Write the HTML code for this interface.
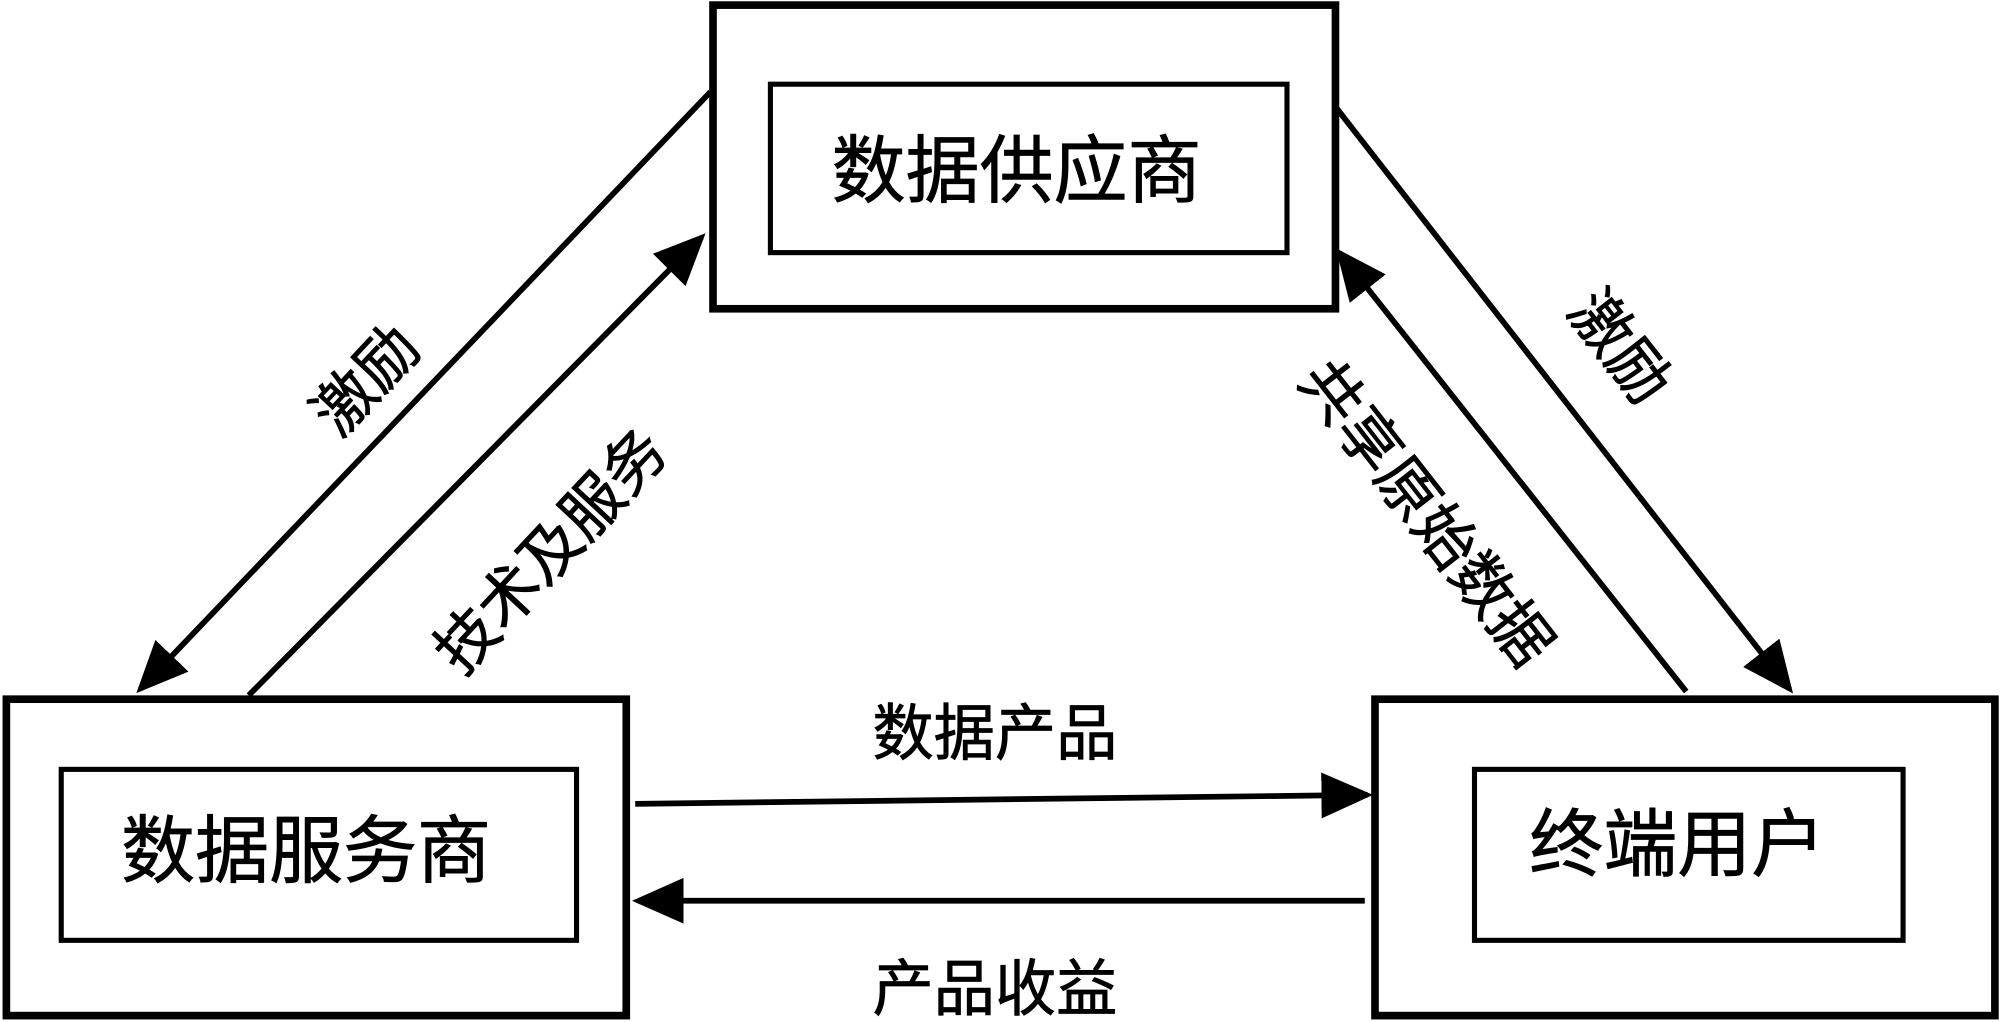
<!DOCTYPE html>
<html><head><meta charset="utf-8"><style>
html,body{margin:0;padding:0;background:#fff;}
svg{display:block;}
text{font-family:"Liberation Sans","Noto Sans CJK SC",sans-serif;fill:#000;stroke:#000;stroke-width:0.6;}
</style></head><body>
<svg width="2000" height="1022" viewBox="0 0 1568 801" preserveAspectRatio="none" xmlns="http://www.w3.org/2000/svg">
<defs>
<marker id="a" markerWidth="9" markerHeight="8" refX="8" refY="4" orient="auto" markerUnits="strokeWidth">
<path d="M0,0 L9,4 L0,8 Z" fill="#000"/>
</marker>
</defs>
<g fill="none" stroke="#000">
<rect x="559" y="4" width="488" height="238" stroke-width="6"/>
<rect x="604" y="66" width="405" height="132" stroke-width="4"/>
<rect x="5" y="548" width="486" height="248" stroke-width="6"/>
<rect x="48" y="603" width="404" height="134" stroke-width="4"/>
<rect x="1078" y="548" width="486" height="248" stroke-width="6"/>
<rect x="1156" y="603" width="336" height="134" stroke-width="4"/>
<g stroke-width="4.5">
<line x1="557" y1="72" x2="110" y2="540" marker-end="url(#a)"/>
<line x1="195" y1="545" x2="550" y2="186" marker-end="url(#a)"/>
<line x1="1048" y1="85" x2="1403" y2="540" marker-end="url(#a)"/>
<line x1="1322" y1="542" x2="1050" y2="198" marker-end="url(#a)"/>
<line x1="498" y1="630" x2="1072" y2="623" marker-end="url(#a)"/>
<line x1="1070" y1="706" x2="500" y2="706" marker-end="url(#a)"/>
</g>
</g>
<g font-size="58" text-anchor="middle" dominant-baseline="central">
<text x="797" y="134">数据供应商</text>
<text x="240" y="667">数据服务商</text>
<text x="1315" y="662">终端用户</text>
</g>
<g font-size="48" text-anchor="middle" dominant-baseline="central">
<text x="780" y="575">数据产品</text>
<text x="780" y="775">产品收益</text>
<text transform="translate(287,298) rotate(-47)">激励</text>
<text transform="translate(432,432) rotate(-47)">技术及服务</text>
<text transform="translate(1270,272) rotate(52)">激励</text>
<text transform="translate(1118,402) rotate(52)">共享原始数据</text>
</g>
</svg>
</body></html>
